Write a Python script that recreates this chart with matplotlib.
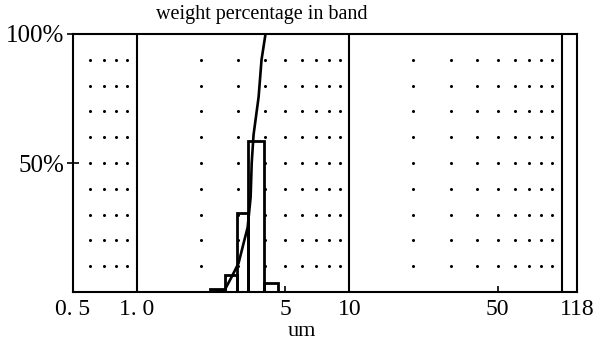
import matplotlib
matplotlib.use("Agg")
import matplotlib.pyplot as plt
import numpy as np

# ---- data ----
# size bands (um) and weight percentage in each band
bin_edges = [2.2, 2.6, 2.95, 3.35, 3.95, 4.6]
band_pct = [1.0, 6.5, 30.5, 58.5, 3.5]

# cumulative curve (um, %)
cum_size = [2.23, 2.59, 2.79, 3.01, 3.18, 3.32, 3.43, 3.47, 3.54, 3.74, 3.86, 4.03]
cum_pct = [0, 0.8, 5.8, 11.2, 19, 25, 36.8, 50, 60.9, 75.6, 90, 100]

# dotted background grid
dot_x = [0.6, 0.7, 0.8, 0.9,
         2, 3, 4, 5, 6, 7, 8, 9,
         20, 30, 40, 50, 60, 70, 80, 90]
dot_y = [10, 20, 30, 40, 50, 60, 70, 80, 90]

decade_lines = [1, 10, 100]
xtick_pos = [0.5, 1.0, 5, 10, 50, 118]
xtick_lab = ["0. 5", "1. 0", "5", "10", "50", "118"]
ytick_pos = [50, 100]
ytick_lab = ["50%", "100%"]

SERIF = ["Liberation Serif", "DejaVu Serif"]
plt.rcParams["font.family"] = SERIF

fig = plt.figure(figsize=(5.93, 3.42), dpi=100)
ax = fig.add_axes([73 / 593, 50 / 342, 504 / 593, 258 / 342])
ax.set_xscale("log")
ax.set_xlim(0.5, 118)
ax.set_ylim(0, 100)

# dots
gx, gy = np.meshgrid(dot_x, dot_y)
ax.plot(gx.ravel(), gy.ravel(), ls="none", marker="o", ms=2.2,
        color="black", mec="none")

# decade lines
for v in decade_lines:
    ax.axvline(v, color="black", lw=1.5)

# histogram bars
widths = np.diff(bin_edges)
ax.bar(bin_edges[:-1], band_pct, width=widths, align="edge",
       fill=False, edgecolor="black", linewidth=2.0)

# cumulative curve
ax.plot(cum_size, cum_pct, color="black", lw=1.9)

for s in ax.spines.values():
    s.set_linewidth(1.5)

ax.set_xticks(xtick_pos)
ax.set_xticklabels(xtick_lab, fontsize=17)
ax.xaxis.set_minor_locator(matplotlib.ticker.NullLocator())
ax.tick_params(axis="x", direction="in", length=4, width=1.2, pad=5)
ax.set_yticks(ytick_pos)
ax.set_yticklabels(ytick_lab, fontsize=18)
ax.tick_params(axis="y", direction="inout", length=8, width=1.2, pad=2)

fig.text(262 / 593, 1 - 15 / 342, "weight percentage in band",
         ha="center", va="center", fontsize=14.5)
fig.text(302 / 593, 1 - 331 / 342, "um", ha="center", va="center",
         fontsize=16)

fig.savefig("out.png", dpi=100, facecolor="white")
